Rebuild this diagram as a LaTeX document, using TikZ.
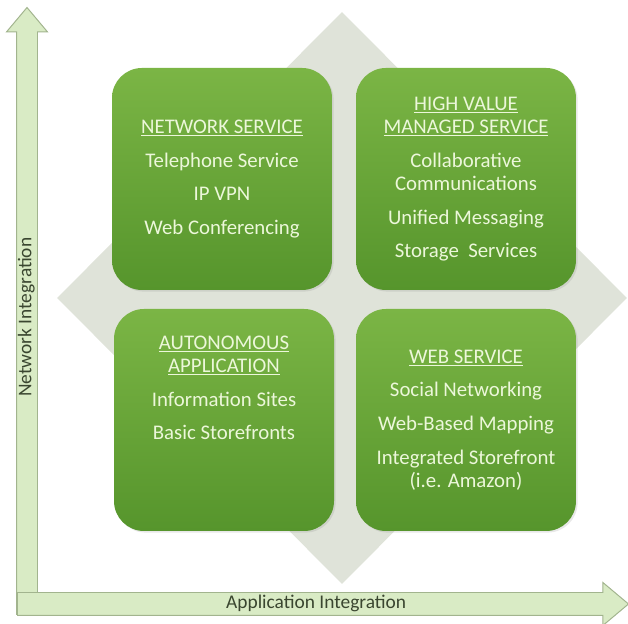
\documentclass[tikz,border=0pt]{standalone}
\usepackage{fontspec}
\setmainfont{Carlito}
\usetikzlibrary{positioning,shapes.geometric,shapes.arrows,shadows}
\definecolor{leaf}{HTML}{7BB545}
\definecolor{leafdark}{HTML}{56952C}
\definecolor{mint}{HTML}{ECF7DA}
\definecolor{haze}{HTML}{DFE3D9}
\definecolor{axisfill}{HTML}{D9EBC5}
\definecolor{axisline}{HTML}{A2B48E}
\definecolor{axistext}{HTML}{3A4630}

\begin{document}
\begin{tikzpicture}[
  font=\fontsize{14.8}{16.5}\selectfont,
  quad/.style={rounded corners=0.75cm, minimum width=5.5cm, minimum height=5.55cm,
    top color=leaf, bottom color=leafdark,
    drop shadow={opacity=0.18, shadow xshift=0.4mm, shadow yshift=-0.4mm}},
  blurb/.style={align=center, text=mint, inner sep=1pt},
  axis/.style={single arrow, draw=axisline, fill=axisfill, line width=0.7pt,
    single arrow head extend=0.25cm, single arrow tip angle=80, inner xsep=0pt, inner ysep=0pt,
    text=axistext, font=\fontsize{13.8}{14}\selectfont, text height=0.36cm, text depth=0.14cm},
]
\useasboundingbox (0,0) rectangle (15.7,15.6);
\node[diamond, fill=haze, minimum width=14.25cm, minimum height=14.3cm, inner sep=0] (backdrop) at (8.55,8.15) {};

% the four quadrants
\node[quad] (netsvc) at (5.55,11.125) {};
\node[quad] (hvsvc) at (11.65,11.125) {};
\node[quad] (autoapp) at (5.6,5.1) {};
\node[quad] (websvc) at (11.65,5.1) {};

\node[blurb] (netsvctxt) at (netsvc) {\underline{NETWORK SERVICE}\\[7.5pt]
  Telephone Service\\[7.5pt] IP VPN\\[7.5pt] Web Conferencing};
\node[blurb] (hvsvctxt) at (hvsvc) {\underline{HIGH VALUE}\\ \underline{MANAGED SERVICE}\\[7.5pt]
  Collaborative\\ Communications\\[7.5pt] Unified Messaging\\[7.5pt] Storage\ \ Services};
\node[blurb, below=6.3mm of autoapp.north] (autoapptxt) {\underline{AUTONOMOUS}\\ \underline{APPLICATION}\\[7.5pt]
  Information Sites\\[7.5pt] Basic Storefronts};
\node[blurb] (websvctxt) at (websvc) {\underline{WEB SERVICE}\\[7.5pt]
  Social Networking\\[7.5pt] Web-Based Mapping\\[7.5pt] Integrated Storefront\\ (i.e. Amazon)};

% axes
\node[axis, rotate=90, anchor=tail, minimum height=15.175cm] (netaxis) at (0.675,0.225) {Network Integration};
\node[axis, anchor=tail, minimum height=15.275cm, text height=0.38cm, text depth=0.17cm] (appaxis) at (0.425,0.5) {Application Integration};
\end{tikzpicture}
\end{document}
